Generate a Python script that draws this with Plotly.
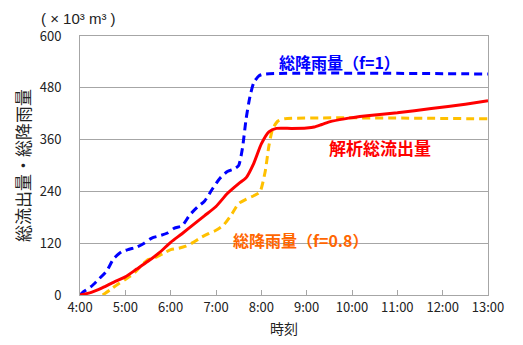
import plotly.graph_objects as go

DAY = "2000-01-01 "

# 解析総流出量 (red, solid)
red_t = ["04:00", "04:15", "04:30", "04:45", "05:00", "05:15", "05:30", "05:45", "06:00",
         "06:15", "06:30", "06:45", "07:00", "07:15", "07:30", "07:40", "07:50", "08:00",
         "08:10", "08:20", "08:40", "09:00", "09:10", "09:20", "09:30", "09:50", "10:20",
         "11:00", "11:45", "12:30", "13:00"]
red_v = [0, 6, 17, 30, 42, 60, 78, 98, 122,
         142, 163, 184, 205, 235, 258, 272, 305, 350,
         378, 386, 386, 387, 389, 395, 401, 408, 415,
         422, 432, 442, 450]

# 総降雨量(f=1) (blue, dashed)
blue_t = ["04:00", "04:05", "04:15", "04:25", "04:35", "04:45", "04:55", "05:05", "05:15",
          "05:25", "05:35", "05:45", "05:55", "06:05", "06:15", "06:25", "06:35", "06:45",
          "06:55", "07:05", "07:15", "07:25", "07:30", "07:35", "07:40", "07:45", "07:50",
          "07:57", "08:05", "13:00"]
blue_v = [0, 8, 20, 37, 55, 85, 100, 106, 111,
          120, 132, 137, 143, 155, 160, 185, 203, 218,
          245, 270, 286, 293, 300, 340, 410, 460, 492,
          508, 512, 512]

# 総降雨量(f=0.8) (orange, dashed)
orange_t = ["04:30", "04:40", "04:50", "05:00", "05:10", "05:20", "05:30", "05:40", "05:50",
            "06:00", "06:10", "06:20", "06:30", "06:40", "06:50", "07:00", "07:10", "07:20",
            "07:30", "07:40", "07:50", "07:58", "08:05", "08:10", "08:15", "08:22", "08:30",
            "13:00"]
orange_v = [0, 12, 25, 36, 48, 66, 82, 87, 96,
            105, 108, 113, 122, 133, 142, 150, 162, 185,
            212, 222, 230, 238, 285, 345, 385, 403, 408,
            408]

x_ticks = ["04:00", "05:00", "06:00", "07:00", "08:00", "09:00", "10:00", "11:00", "12:00", "13:00"]
x_ticktext = ["4:00", "5:00", "6:00", "7:00", "8:00", "9:00", "10:00", "11:00", "12:00", "13:00"]
y_ticks = [0, 120, 240, 360, 480, 600]

FONT = "Noto Sans CJK JP"

fig = go.Figure()
fig.add_trace(go.Scatter(x=[DAY + t for t in blue_t], y=blue_v, mode="lines",
                         line=dict(color="#0000FF", width=3, dash="8px,5px", shape="spline", smoothing=0.6)))
fig.add_trace(go.Scatter(x=[DAY + t for t in orange_t], y=orange_v, mode="lines",
                         line=dict(color="#FFC000", width=3, dash="8px,5px", shape="spline", smoothing=0.6)))
fig.add_trace(go.Scatter(x=[DAY + t for t in red_t], y=red_v, mode="lines",
                         line=dict(color="#FF0000", width=3, shape="spline", smoothing=0.6)))

fig.update_layout(
    width=515, height=337,
    margin=dict(l=72, r=35, t=28, b=50),
    paper_bgcolor="white", plot_bgcolor="white",
    showlegend=False, hovermode=False,
    font=dict(family=FONT, color="#222222", size=13),
    xaxis=dict(type="date", range=[DAY + "04:00", DAY + "13:00"],
               tickvals=[DAY + t for t in x_ticks], ticktext=x_ticktext,
               showgrid=False, showline=True, linecolor="#A6A6A6", linewidth=1, mirror=True,
               ticks="inside", ticklen=5, tickcolor="#A6A6A6",
               tickfont=dict(size=13), zeroline=False,
               title=dict(text="時刻", font=dict(size=14), standoff=9)),
    yaxis=dict(range=[0, 600], tickvals=y_ticks, showgrid=True, gridcolor="#A6A6A6", gridwidth=1,
               showline=True, linecolor="#A6A6A6", linewidth=1, mirror=True,
               ticks="", ticklabelstandoff=15, tickfont=dict(size=13), zeroline=False,
               title=dict(text="総流出量・総降雨量", font=dict(size=17), standoff=4)),
)

fig.add_annotation(xref="paper", yref="paper", x=-0.098, y=1.106, xanchor="left", yanchor="top",
                   borderpad=0, text="( × 10³ m³ )", showarrow=False,
                   font=dict(family="Liberation Sans", size=15, color="#222222"))
fig.add_annotation(xref="paper", yref="paper", x=0.483, y=0.90, xanchor="left", yanchor="middle",
                   text="<b>総降雨量（f=1）</b>", showarrow=False, font=dict(size=16, color="#0000FF"))
fig.add_annotation(xref="paper", yref="paper", x=0.605, y=0.568, xanchor="left", yanchor="middle",
                   text="<b>解析総流出量</b>", showarrow=False, font=dict(size=17, color="#FF0000"))
fig.add_annotation(xref="paper", yref="paper", x=0.37, y=0.212, xanchor="left", yanchor="middle",
                   text="<b>総降雨量（f=0.8）</b>", showarrow=False, font=dict(size=16, color="#FF6600"))

fig.write_html("out.html")
